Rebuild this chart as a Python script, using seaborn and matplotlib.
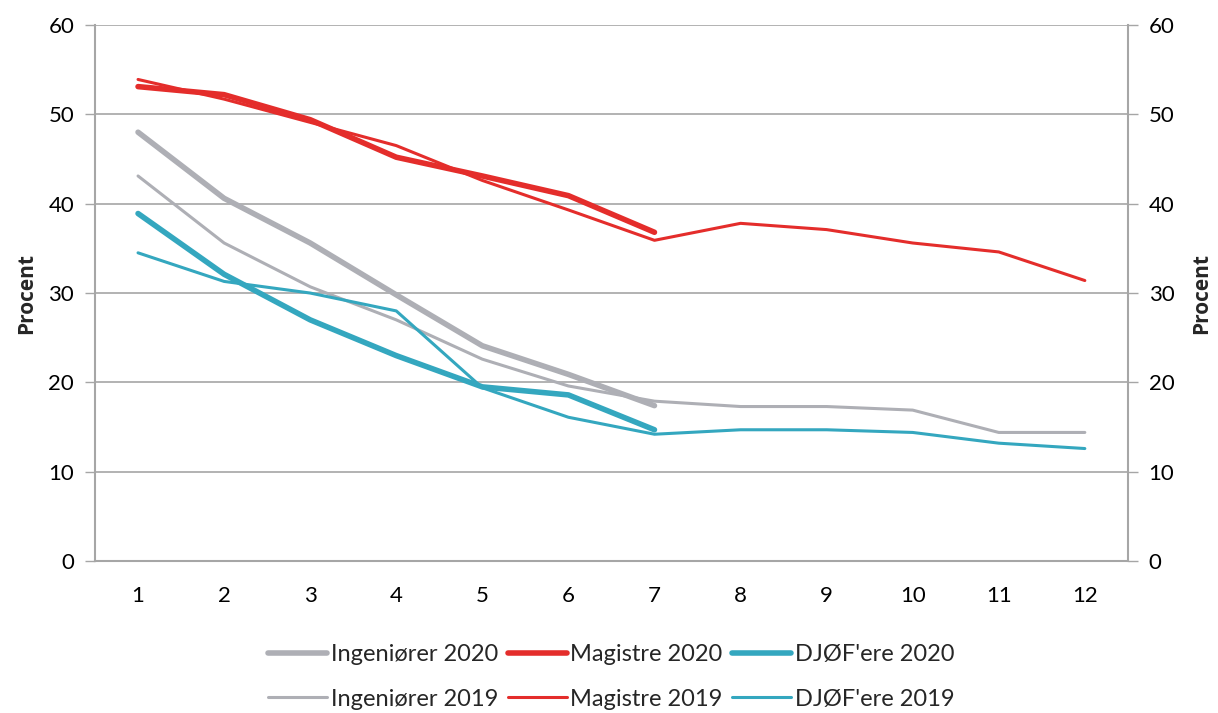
import matplotlib
matplotlib.use("Agg")
import matplotlib.pyplot as plt
import seaborn as sns
import numpy as np

# data (percent, by month)
months_2020 = [1, 2, 3, 4, 5, 6, 7]
months_2019 = [1, 2, 3, 4, 5, 6, 7, 8, 9, 10, 11, 12]

ing_2020 = [48.0, 40.6, 35.6, 29.8, 24.1, 20.9, 17.4]
mag_2020 = [53.1, 52.2, 49.4, 45.2, 43.1, 40.9, 36.8]
djoef_2020 = [38.9, 32.1, 27.0, 23.0, 19.5, 18.6, 14.7]

ing_2019 = [43.1, 35.6, 30.7, 27.0, 22.6, 19.6, 17.9, 17.3, 17.3, 16.9, 14.4, 14.4]
mag_2019 = [53.9, 51.7, 49.1, 46.5, 42.6, 39.3, 35.9, 37.8, 37.1, 35.6, 34.6, 31.4]
djoef_2019 = [34.5, 31.3, 30.0, 28.0, 19.4, 16.1, 14.2, 14.7, 14.7, 14.4, 13.2, 12.6]

y_ticks = [0, 10, 20, 30, 40, 50, 60]

GRAY = "#AEAFB5"
RED = "#E42D2B"
TEAL = "#34A7BF"
AXIS = "#A6A6A6"

sns.set_theme(style="white")
plt.rcParams['font.family'] = ['Lato', 'DejaVu Sans']

fig = plt.figure(figsize=(12.18, 7.13), dpi=100)
ax = fig.add_axes([0.078, 0.213, 0.848, 0.752])

thick, thin = 4.0, 2.2
series = [
    (months_2020, ing_2020, GRAY, thick, "Ingeniører 2020"),
    (months_2019, ing_2019, GRAY, thin, "Ingeniører 2019"),
    (months_2020, mag_2020, RED, thick, "Magistre 2020"),
    (months_2019, mag_2019, RED, thin, "Magistre 2019"),
    (months_2020, djoef_2020, TEAL, thick, "DJØF'ere 2020"),
    (months_2019, djoef_2019, TEAL, thin, "DJØF'ere 2019"),
]
# draw thin 2019 lines first, thick 2020 lines on top
for xs, ys, col, lw, lab in sorted(series, key=lambda s: s[3]):
    sns.lineplot(x=xs, y=ys, ax=ax, color=col, linewidth=lw, label=lab,
                 solid_capstyle="round", solid_joinstyle="round")

ax.set_xlim(0.5, 12.5)
ax.set_ylim(0, 60)
ax.set_yticks(y_ticks)
ax.set_xticks(months_2019)
ax.set_xticks(np.arange(0.5, 13, 1), minor=True)
ax.tick_params(axis="x", which="major", length=0, labelsize=16, pad=18, colors="black")
ax.tick_params(axis="x", which="minor", length=7, width=1, color=AXIS, direction="out")
ax.tick_params(axis="y", length=7, width=1, color=AXIS, labelsize=16, pad=8, labelcolor="black")
ax.grid(axis="y", color=AXIS, linewidth=1.2)
ax.set_axisbelow(True)
for side in ["left", "right", "bottom"]:
    ax.spines[side].set_color(AXIS)
    ax.spines[side].set_linewidth(1.5)
ax.spines["top"].set_visible(False)
label_font = dict(fontsize=15, fontweight="bold", family=["Open Sans", "DejaVu Sans"])
ax.set_ylabel("Procent", labelpad=8, **label_font)
ax.set_xlabel("")

ax2 = ax.twinx()
ax2.set_ylim(0, 60)
ax2.set_yticks(y_ticks)
ax2.tick_params(axis="y", length=7, width=1, color=AXIS, labelsize=16, pad=8, labelcolor="black")
for side in ["left", "right", "bottom", "top"]:
    ax2.spines[side].set_visible(False)
ax2.set_ylabel("Procent", labelpad=12, **label_font)

handles, labels = ax.get_legend_handles_labels()
order = ["Ingeniører 2020", "Ingeniører 2019", "Magistre 2020", "Magistre 2019",
         "DJØF'ere 2020", "DJØF'ere 2019"]
hmap = dict(zip(labels, handles))
ax.legend([hmap[k] for k in order], order, loc="upper center",
          bbox_to_anchor=(0.5, -0.115), ncol=3, frameon=False, fontsize=17,
          handlelength=2.5, handletextpad=0.15, columnspacing=0.4, labelspacing=1.0)

fig.savefig("out.png", dpi=100)
